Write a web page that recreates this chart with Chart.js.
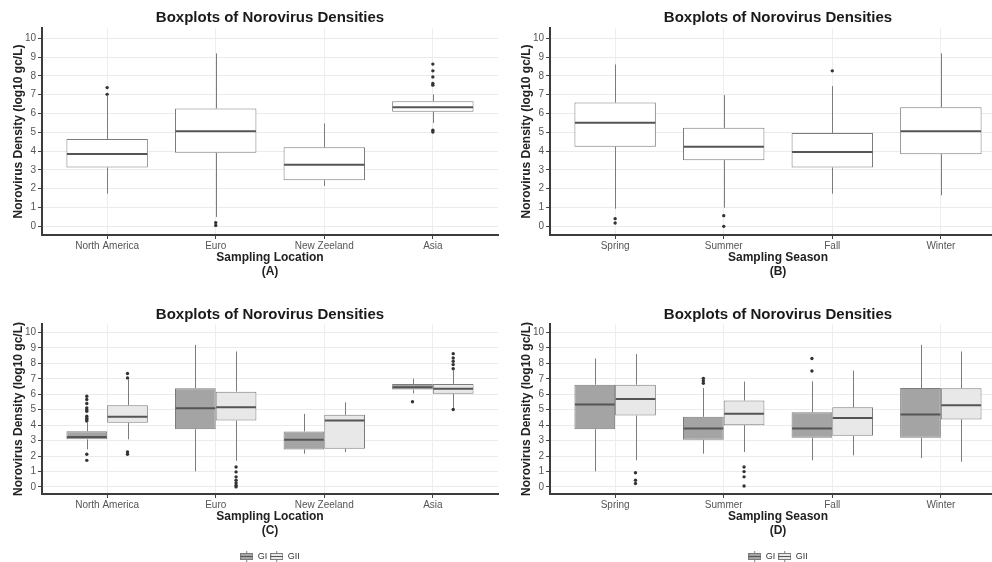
<!DOCTYPE html>
<html><head><meta charset="utf-8">
<script src="https://cdn.jsdelivr.net/npm/chart.js@4.4.0/dist/chart.umd.min.js"></script>
<style>
html,body{margin:0;padding:0;background:#fff;overflow:hidden;}
#wrap{position:relative;width:992px;height:562px;overflow:hidden;background:#fff;}
canvas{position:absolute;}
</style></head><body>
<div id="wrap">
<canvas id="pA" width="500" height="281" style="left:0;top:0"></canvas>
<canvas id="pB" width="500" height="281" style="left:508px;top:0"></canvas>
<canvas id="pC" width="500" height="290" style="left:0;top:281px"></canvas>
<canvas id="pD" width="500" height="290" style="left:508px;top:281px"></canvas>
</div>
<script>
// ---------- labels ----------
const chartTitle = 'Boxplots of Norovirus Densities';
const yAxisTitle = 'Norovirus Density (log10 gc/L)';
const locationTitle = 'Sampling Location';
const seasonTitle = 'Sampling Season';
const panelTags = ['(A)', '(B)', '(C)', '(D)'];
const locations = ['North America', 'Euro', 'New Zeeland', 'Asia'];
const seasons = ['Spring', 'Summer', 'Fall', 'Winter'];
const yTickValues = [0, 1, 2, 3, 4, 5, 6, 7, 8, 9, 10];
const groupNames = ['GI', 'GII'];

// ---------- Panel A: location, all genogroups ----------
const locAllLow = [1.74, 0.50, 2.15, 5.50];
const locAllQ1 = [3.13, 3.91, 2.45, 6.09];
const locAllMedian = [3.85, 5.06, 3.27, 6.34];
const locAllQ3 = [4.64, 6.27, 4.21, 6.66];
const locAllHigh = [6.98, 9.20, 5.47, 7.02];
const locAllOutliers = [[7.02, 7.38], [0.05, 0.20], [], [5.02, 5.11, 7.51, 7.60, 7.95, 8.27, 8.63]];

// ---------- Panel B: season, all genogroups ----------
const seaAllLow = [0.94, 0.99, 1.74, 1.65];
const seaAllQ1 = [4.23, 3.52, 3.13, 3.84];
const seaAllMedian = [5.51, 4.23, 3.96, 5.06];
const seaAllQ3 = [6.59, 5.24, 4.97, 6.34];
const seaAllHigh = [8.61, 6.98, 7.46, 9.20];
const seaAllOutliers = [[0.18, 0.41], [0.00, 0.57], [8.27], []];

// ---------- Panel C: location by genogroup ----------
const locGILow = [2.43, 1.01, 2.15, 6.05];
const locGIQ1 = [3.08, 3.74, 2.43, 6.30];
const locGIMedian = [3.23, 5.10, 3.05, 6.45];
const locGIQ3 = [3.61, 6.39, 3.59, 6.67];
const locGIHigh = [4.15, 9.20, 4.73, 7.01];
const locGIOutliers = [[1.72, 2.11, 4.26, 4.35, 4.45, 4.58, 4.90, 5.00, 5.12, 5.40, 5.66, 5.87], [], [], [5.51]];
const locGIILow = [3.08, 1.68, 2.26, 5.12];
const locGIIQ1 = [4.15, 4.30, 2.47, 6.03];
const locGIIMedian = [4.54, 5.16, 4.30, 6.35];
const locGIIQ3 = [5.29, 6.17, 4.67, 6.67];
const locGIIHigh = [6.98, 8.77, 5.48, 7.59];
const locGIIOutliers = [[2.11, 2.26, 7.06, 7.34], [0.00, 0.10, 0.26, 0.43, 0.65, 0.97, 1.29], [], [5.01, 7.65, 7.92, 8.13, 8.35, 8.63]];

// ---------- Panel D: season by genogroup ----------
const seaGILow = [1.01, 2.15, 1.72, 1.87];
const seaGIQ1 = [3.74, 3.05, 3.18, 3.18];
const seaGIMedian = [5.33, 3.78, 3.78, 4.69];
const seaGIQ3 = [6.62, 4.54, 4.84, 6.41];
const seaGIHigh = [8.32, 6.41, 6.84, 9.20];
const seaGIOutliers = [[], [6.71, 6.88, 7.03], [7.51, 8.32], []];
const seaGIILow = [1.72, 2.26, 2.04, 1.63];
const seaGIIQ1 = [4.62, 4.00, 3.31, 4.37];
const seaGIIMedian = [5.70, 4.73, 4.47, 5.29];
const seaGIIQ3 = [6.62, 5.59, 5.16, 6.39];
const seaGIIHigh = [8.60, 6.82, 7.53, 8.77];
const seaGIIOutliers = [[0.22, 0.43, 0.92], [0.06, 0.65, 0.99, 1.29], [], []];

// ---------- styling ----------
const FONT = '"Liberation Sans", Arial, Helvetica, sans-serif';
Chart.defaults.font.family = FONT;
const FILL_ALL = '#ffffff';
const FILL_GI = '#a4a4a4';
const FILL_GII = '#e8e8e8';
const BOX_LINE = '#7c7c7c';
const MEDIAN_LINE = '#555555';

function makeIcon(fill) {
  const c = document.createElement('canvas');
  c.width = 13; c.height = 11;
  const g = c.getContext('2d');
  g.strokeStyle = BOX_LINE; g.lineWidth = 1;
  g.beginPath(); g.moveTo(6.5, 0); g.lineTo(6.5, 11); g.stroke();
  g.fillStyle = fill; g.fillRect(0.5, 2.5, 12, 6);
  g.strokeRect(0.5, 2.5, 12, 6);
  g.strokeStyle = MEDIAN_LINE; g.beginPath(); g.moveTo(0.5, 5.5); g.lineTo(12.5, 5.5); g.stroke();
  return c;
}

const boxWhiskerPlugin = {
  id: 'boxWhisker',
  afterDatasetsDraw(chart) {
    const ctx = chart.ctx, ys = chart.scales.y;
    chart.data.datasets.forEach((ds, di) => {
      if (!ds.boxStats) return;
      const meta = chart.getDatasetMeta(di);
      const s = ds.boxStats;
      meta.data.forEach((el, i) => {
        const x = Math.round(el.x) + 0.5, hw = el.width / 2;
        ctx.save();
        ctx.strokeStyle = BOX_LINE; ctx.lineWidth = 1;
        ctx.beginPath();
        ctx.moveTo(x, ys.getPixelForValue(s.q3[i])); ctx.lineTo(x, ys.getPixelForValue(s.high[i]));
        ctx.moveTo(x, ys.getPixelForValue(s.q1[i])); ctx.lineTo(x, ys.getPixelForValue(s.low[i]));
        ctx.stroke();
        const ym = ys.getPixelForValue(s.median[i]);
        ctx.strokeStyle = MEDIAN_LINE; ctx.lineWidth = 2;
        ctx.beginPath(); ctx.moveTo(el.x - hw + 0.5, ym); ctx.lineTo(el.x + hw - 0.5, ym); ctx.stroke();
        ctx.restore();
      });
    });
  }
};

function makeChart(id, cats, groups, xTitle, tag, showLegend) {
  const n = groups.length;
  const datasets = groups.map(g => ({
    type: 'bar', label: g.label,
    data: cats.map((c, i) => ({ x: i + 1, y: [g.q1[i], g.q3[i]] })),
    backgroundColor: g.fill, borderColor: BOX_LINE, borderWidth: 1, borderSkipped: false,
    categoryPercentage: 0.75, barPercentage: 1, boxStats: g
  }));
  groups.forEach((g, gi) => {
    const off = (gi - (n - 1) / 2) * 0.75 / n;
    const pts = [];
    g.outliers.forEach((arr, i) => arr.forEach(v => pts.push({ x: i + 1 + off, y: v })));
    datasets.push({
      type: 'scatter', label: g.label + ' outliers', data: pts,
      pointRadius: 1.7, pointHoverRadius: 1.7, backgroundColor: '#333333', borderWidth: 0
    });
  });
  return new Chart(document.getElementById(id), {
    type: 'bar',
    data: { datasets },
    plugins: [boxWhiskerPlugin],
    options: {
      responsive: false, animation: false, devicePixelRatio: 1,
      layout: { padding: { left: 0, right: 2, top: 0, bottom: 0 } },
      plugins: {
        tooltip: { enabled: false },
        title: {
          display: true, text: chartTitle, fullSize: false, color: '#1a1a1a',
          font: { size: 15, weight: 'bold' },
          padding: showLegend ? { top: 25, bottom: 0 } : { top: 9, bottom: 1 }
        },
        legend: {
          display: showLegend, position: 'bottom', align: 'center', fullSize: false,
          labels: {
            usePointStyle: true, pointStyleWidth: 13, boxHeight: 9, padding: 3,
            color: '#333', font: { size: 9 },
            generateLabels: () => groups.map((g, i) => ({
              text: g.label, pointStyle: makeIcon(g.fill), datasetIndex: i,
              fillStyle: g.fill, strokeStyle: BOX_LINE, lineWidth: 1, hidden: false, fontColor: '#333'
            }))
          }
        }
      },
      scales: {
        x: {
          type: 'linear', min: 0.4, max: 4.6, offset: false,
          afterBuildTicks: s => { s.ticks = cats.map((c, i) => ({ value: i + 1 })); },
          afterFit: s => { s.height = showLegend ? 55 : 46; },
          ticks: {
            autoSkip: false, maxRotation: 0, padding: 1, color: '#555', font: { size: 10 },
            callback: v => cats[Math.round(v) - 1] ?? ''
          },
          grid: { offset: false, color: '#eeeeee', lineWidth: 1, tickLength: 4, tickColor: '#444' },
          border: { display: true, color: '#3c3c3c', width: 2 },
          title: {
            display: true, text: [xTitle, tag], color: '#222',
            font: { size: 12, weight: 'bold' },
            padding: { top: 0, bottom: showLegend ? 11 : 2 }
          }
        },
        y: {
          type: 'linear', min: -0.46, max: 10.55,
          afterBuildTicks: s => { s.ticks = yTickValues.map(v => ({ value: v })); },
          afterFit: s => { s.width = 42; },
          ticks: { padding: 2, color: '#555', font: { size: 10 } },
          grid: { color: '#ebebeb', lineWidth: 1, tickLength: 4, tickColor: '#444' },
          border: { display: true, color: '#3c3c3c', width: 2 },
          title: {
            display: true, text: yAxisTitle, color: '#222',
            font: { size: 12, weight: 'bold' }, padding: { top: 11, bottom: 0 }
          }
        }
      }
    }
  });
}

makeChart('pA', locations, [
  { label: 'All', fill: FILL_ALL, low: locAllLow, q1: locAllQ1, median: locAllMedian, q3: locAllQ3, high: locAllHigh, outliers: locAllOutliers }
], locationTitle, panelTags[0], false);

makeChart('pB', seasons, [
  { label: 'All', fill: FILL_ALL, low: seaAllLow, q1: seaAllQ1, median: seaAllMedian, q3: seaAllQ3, high: seaAllHigh, outliers: seaAllOutliers }
], seasonTitle, panelTags[1], false);

makeChart('pC', locations, [
  { label: groupNames[0], fill: FILL_GI, low: locGILow, q1: locGIQ1, median: locGIMedian, q3: locGIQ3, high: locGIHigh, outliers: locGIOutliers },
  { label: groupNames[1], fill: FILL_GII, low: locGIILow, q1: locGIIQ1, median: locGIIMedian, q3: locGIIQ3, high: locGIIHigh, outliers: locGIIOutliers }
], locationTitle, panelTags[2], true);

makeChart('pD', seasons, [
  { label: groupNames[0], fill: FILL_GI, low: seaGILow, q1: seaGIQ1, median: seaGIMedian, q3: seaGIQ3, high: seaGIHigh, outliers: seaGIOutliers },
  { label: groupNames[1], fill: FILL_GII, low: seaGIILow, q1: seaGIIQ1, median: seaGIIMedian, q3: seaGIIQ3, high: seaGIIHigh, outliers: seaGIIOutliers }
], seasonTitle, panelTags[3], true);
</script>
</body></html>
